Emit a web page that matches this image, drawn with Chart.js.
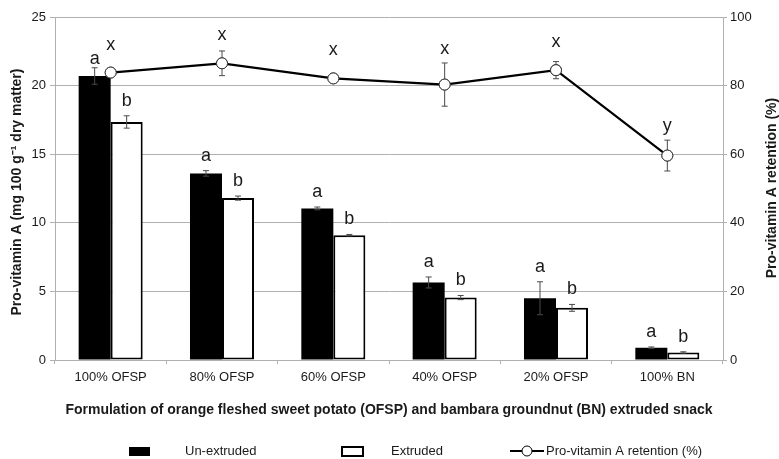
<!DOCTYPE html>
<html>
<head>
<meta charset="utf-8">
<script src="https://cdn.jsdelivr.net/npm/chart.js@4"></script>
<style>
  html, body { margin: 0; padding: 0; background: #fff; }
  #wrap { width: 779px; height: 459px; }
</style>
</head>
<body>
<div id="wrap"><canvas id="chart" width="779" height="459"></canvas></div>
<script>
// formulations
var labels = ["100% OFSP", "80% OFSP", "60% OFSP", "40% OFSP", "20% OFSP", "100% BN"];

// pro-vitamin A, mg 100 g-1 dry matter
var unextruded = [20.7, 13.6, 11.05, 5.65, 4.5, 0.9];
var unextrudedErr = [0.6, 0.2, 0.1, 0.4, 1.2, 0.05];
var extruded = [17.35, 11.8, 9.1, 4.55, 3.8, 0.55];
var extrudedErr = [0.45, 0.15, 0.05, 0.15, 0.25, 0.05];

// retention, %
var retention = [83.8, 86.5, 82.1, 80.3, 84.5, 59.6];
var retentionErr = [0.5, 3.6, 0.3, 6.3, 2.5, 4.5];

// significance letters
var unLetters = ["a", "a", "a", "a", "a", "a"];
var exLetters = ["b", "b", "b", "b", "b", "b"];
var retLetters = ["x", "x", "x", "x", "x", "y"];

var leftTicks = [0, 5, 10, 15, 20, 25];
var rightTicks = [0, 20, 40, 60, 80, 100];

var FONT = "'Liberation Sans', Arial, sans-serif";
var TXT = "#1a1a1a";
var GRID = "#b0b0b0";

Chart.defaults.font.family = FONT;
Chart.defaults.color = TXT;

// error bars + letters drawn through the chart scales
var extras = {
  id: "extras",
  afterDatasetsDraw: function (chart) {
    var ctx = chart.ctx;
    var y = chart.scales.y, y1 = chart.scales.y1;
    ctx.save();
    ctx.strokeStyle = "#4a4a4a";
    ctx.lineWidth = 1;
    function errBar(x, top, bot) {
      ctx.beginPath();
      ctx.moveTo(x, top); ctx.lineTo(x, bot);
      ctx.moveTo(x - 3, top); ctx.lineTo(x + 3, top);
      ctx.moveTo(x - 3, bot); ctx.lineTo(x + 3, bot);
      ctx.stroke();
    }
    ctx.font = "18px " + FONT;
    ctx.fillStyle = TXT;
    ctx.textAlign = "center";
    ctx.textBaseline = "middle";
    var sets = [[0, unextruded, unextrudedErr, unLetters], [1, extruded, extrudedErr, exLetters]];
    sets.forEach(function (s) {
      var meta = chart.getDatasetMeta(s[0]);
      meta.data.forEach(function (bar, i) {
        var top = y.getPixelForValue(s[1][i] + s[2][i]);
        var bot = y.getPixelForValue(s[1][i] - s[2][i]);
        errBar(bar.x, top, bot);
        ctx.fillText(s[3][i], bar.x, Math.max(top - 15, 59));
      });
    });
    var lm = chart.getDatasetMeta(2);
    lm.data.forEach(function (pt, i) {
      var top = y1.getPixelForValue(retention[i] + retentionErr[i]);
      var bot = y1.getPixelForValue(retention[i] - retentionErr[i]);
      errBar(pt.x, top, bot);
    });
    // redraw points over the error bars
    lm.data.forEach(function (pt) { pt.draw(ctx); });
    ctx.font = "18px " + FONT;
    ctx.fillStyle = TXT;
    ctx.textAlign = "center";
    ctx.textBaseline = "middle";
    lm.data.forEach(function (pt, i) {
      var top = y1.getPixelForValue(retention[i] + retentionErr[i]);
      var ly = Math.min(top - 14, pt.y - 28);
      ctx.fillText(retLetters[i], pt.x, ly);
    });
    ctx.restore();
  },
  afterDraw: function (chart) {
    var ctx = chart.ctx;
    ctx.save();
    ctx.fillStyle = TXT;
    ctx.font = "bold 14px " + FONT;
    ctx.textAlign = "center";
    ctx.textBaseline = "middle";
    // left title
    ctx.save();
    ctx.translate(17, 192);
    ctx.rotate(-Math.PI / 2);
    ctx.fillText("Pro-vitamin A (mg 100 g\u207B\u00B9 dry matter)", 0, 0);
    ctx.restore();
    // right title
    ctx.save();
    ctx.translate(772, 188);
    ctx.rotate(-Math.PI / 2);
    ctx.fillText("Pro-vitamin A retention (%)", 0, 0);
    ctx.restore();

    // legend
    var ly = 451;
    ctx.font = "13px " + FONT;
    ctx.textAlign = "left";
    ctx.fillStyle = "#000";
    ctx.fillRect(129, ly - 4, 21, 9);
    ctx.fillStyle = TXT;
    ctx.fillText(chart.data.datasets[0].label, 185, ly);
    ctx.fillStyle = "#fff";
    ctx.strokeStyle = "#000";
    ctx.lineWidth = 2;
    ctx.fillRect(342, ly - 4, 21, 9);
    ctx.strokeRect(342, ly - 4, 21, 9);
    ctx.fillStyle = TXT;
    ctx.fillText(chart.data.datasets[1].label, 391, ly);
    ctx.beginPath();
    ctx.moveTo(510, ly); ctx.lineTo(544, ly);
    ctx.stroke();
    ctx.beginPath();
    ctx.arc(527, ly, 5, 0, Math.PI * 2);
    ctx.fillStyle = "#fff";
    ctx.fill();
    ctx.lineWidth = 1;
    ctx.stroke();
    ctx.fillStyle = TXT;
    ctx.fillText(chart.data.datasets[2].label, 546, ly);
    ctx.restore();
  }
};

new Chart(document.getElementById("chart"), {
  data: {
    labels: labels,
    datasets: [
      {
        type: "bar",
        label: "Un-extruded",
        data: unextruded,
        backgroundColor: "#000",
        borderColor: "#000",
        borderWidth: 0,
        yAxisID: "y",
        order: 2,
        categoryPercentage: 0.575,
        barPercentage: 1
      },
      {
        type: "bar",
        label: "Extruded",
        data: extruded,
        backgroundColor: "#fff",
        borderColor: "#000",
        borderWidth: 2,
        borderSkipped: false,
        yAxisID: "y",
        order: 2,
        categoryPercentage: 0.575,
        barPercentage: 1
      },
      {
        type: "line",
        label: "Pro-vitamin A retention (%)",
        data: retention,
        borderColor: "#000",
        borderWidth: 2.2,
        pointRadius: 5.5,
        pointBackgroundColor: "#fff",
        pointBorderColor: "#333",
        pointBorderWidth: 1,
        tension: 0,
        yAxisID: "y1",
        order: 1
      }
    ]
  },
  options: {
    responsive: false,
    animation: false,
    layout: { padding: { top: 17, left: 0, right: 0, bottom: 29 } },
    plugins: {
      legend: { display: false },
      tooltip: { enabled: false }
    },
    scales: {
      x: {
        offset: true,
        grid: { display: true, drawOnChartArea: false, drawTicks: true, tickLength: 4, offset: true, color: GRID },
        border: { color: GRID },
        ticks: { font: { size: 13 }, color: TXT, padding: 6, maxRotation: 0 },
        title: {
          display: true,
          text: "Formulation of orange fleshed sweet potato (OFSP) and bambara groundnut (BN) extruded snack",
          font: { size: 14, weight: "bold" },
          color: TXT,
          padding: { top: 0, bottom: 11 }
        },
        afterFit: function (s) { s.height = 70; }
      },
      y: {
        position: "left",
        min: 0,
        max: 25,
        afterBuildTicks: function (s) { s.ticks = leftTicks.map(function (v) { return { value: v }; }); },
        grid: { color: GRID, tickLength: 5 },
        border: { color: GRID },
        ticks: { font: { size: 13 }, color: TXT, padding: 4 },
        afterFit: function (s) { s.width = 55; }
      },
      y1: {
        position: "right",
        min: 0,
        max: 100,
        afterBuildTicks: function (s) { s.ticks = rightTicks.map(function (v) { return { value: v }; }); },
        grid: { drawOnChartArea: false, color: GRID, tickLength: 4 },
        border: { color: GRID },
        ticks: { font: { size: 13 }, color: TXT, padding: 3 },
        afterFit: function (s) { s.width = 56; }
      }
    }
  },
  plugins: [extras]
});
</script>
</body>
</html>
